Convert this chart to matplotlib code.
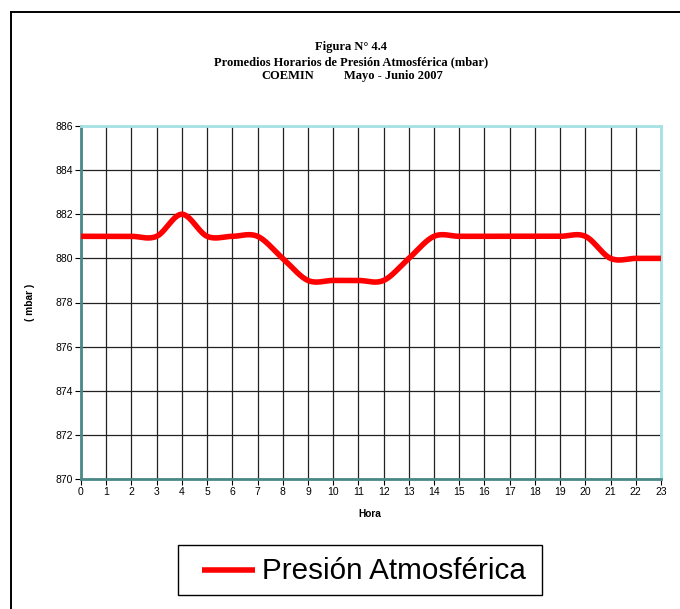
import numpy as np
import matplotlib.pyplot as plt
from matplotlib.lines import Line2D
from matplotlib.patches import Rectangle

# hourly mean pressure, COEMIN May-June 2007
hours = list(range(24))
pressure = [881, 881, 881, 881, 882, 881, 881, 881, 880, 879, 879, 879,
            879, 880, 881, 881, 881, 881, 881, 881, 881, 880, 880, 880]
y_ticks = list(range(870, 887, 2))
series_name = 'Presión Atmosférica'


def smooth_curve(x, y, n=30):
    # Catmull-Rom style smoothing, like a spreadsheet "smoothed line"
    x = np.asarray(x, float)
    y = np.asarray(y, float)
    m = np.zeros_like(y)
    m[1:-1] = (y[2:] - y[:-2]) / (x[2:] - x[:-2])
    m[0] = y[1] - y[0]
    m[-1] = y[-1] - y[-2]
    xs, ys = [], []
    for i in range(len(x) - 1):
        t = np.linspace(0, 1, n, endpoint=False)
        h = x[i + 1] - x[i]
        h00 = 2 * t**3 - 3 * t**2 + 1
        h10 = t**3 - 2 * t**2 + t
        h01 = -2 * t**3 + 3 * t**2
        h11 = t**3 - t**2
        xs.append(x[i] + t * h)
        ys.append(h00 * y[i] + h10 * h * m[i] + h01 * y[i + 1] + h11 * h * m[i + 1])
    xs.append([x[-1]])
    ys.append([y[-1]])
    return np.concatenate(xs), np.concatenate(ys)


W, H = 680, 609
fig = plt.figure(figsize=(W / 100, H / 100), dpi=100)
ax = fig.add_axes([81 / W, 1 - 479 / H, (661 - 81) / W, (479 - 126) / H])

sx, sy = smooth_curve(hours, pressure)
ax.plot(sx, sy, color='#ff0000', lw=4, solid_capstyle='butt', zorder=3,
        clip_on=False)

ax.set_xlim(0, 23)
ax.set_ylim(870, 886)
ax.set_xticks(hours)
ax.set_yticks(y_ticks)
ax.grid(True, color='#222222', lw=0.9)
ax.set_axisbelow(True)

sans = 'Liberation Sans'
ax.tick_params(direction='out', length=4, width=0.8, labelsize=7.5, pad=2)
for lab in ax.get_xticklabels() + ax.get_yticklabels():
    lab.set_family(sans)

for side in ('left', 'bottom'):
    ax.spines[side].set_color('#4a8888')
    ax.spines[side].set_linewidth(2)
for side in ('top', 'right'):
    ax.spines[side].set_color('#a6e2e4')
    ax.spines[side].set_linewidth(2)

ax.set_xlabel('Hora', family=sans, fontsize=7.3, fontweight='bold')
ax.set_ylabel('( mbar )', family=sans, fontsize=7.3, fontweight='bold')
ax.xaxis.set_label_coords((370 - 81) / 580, (479 - 514) / 353)
ax.yaxis.set_label_coords((30 - 81) / 580, 0.5)
ax.xaxis.label.set_va('center')
ax.yaxis.label.set_va('center')

# title block
serif = 'Liberation Serif'
fig.text(351 / W, 1 - 47 / H, 'Figura N° 4.4', family=serif, fontsize=9,
         fontweight='bold', ha='center', va='center')
fig.text(351 / W, 1 - 62 / H, 'Promedios Horarios de Presión Atmosférica (mbar)',
         family=serif, fontsize=9, fontweight='bold', ha='center', va='center')
fig.text(287.5 / W, 1 - 76 / H, 'COEMIN', family=serif, fontsize=9,
         fontweight='bold', ha='center', va='center')
fig.text(393 / W, 1 - 76 / H, 'Mayo - Junio 2007', family=serif, fontsize=9,
         fontweight='bold', ha='center', va='center')

# outer frame (top and left edges)
fig.add_artist(Line2D([10.5 / W, 10.5 / W], [0, 1 - 11.5 / H],
                      transform=fig.transFigure, color='black', lw=1.4))
fig.add_artist(Line2D([10.5 / W, 1], [1 - 11.5 / H, 1 - 11.5 / H],
                      transform=fig.transFigure, color='black', lw=1.4))

# legend box
fig.add_artist(Rectangle((178 / W, 1 - 595 / H), 364 / W, 50 / H,
                         transform=fig.transFigure, fill=False,
                         edgecolor='black', lw=1))
fig.add_artist(Line2D([202 / W, 255 / W], [1 - 570 / H, 1 - 570 / H],
                      transform=fig.transFigure, color='#ff0000', lw=4,
                      solid_capstyle='butt'))
fig.text(262 / W, 1 - 571 / H, series_name, family=sans, fontsize=21.3,
         ha='left', va='center')

fig.savefig('out.png', dpi=100, facecolor='white')
